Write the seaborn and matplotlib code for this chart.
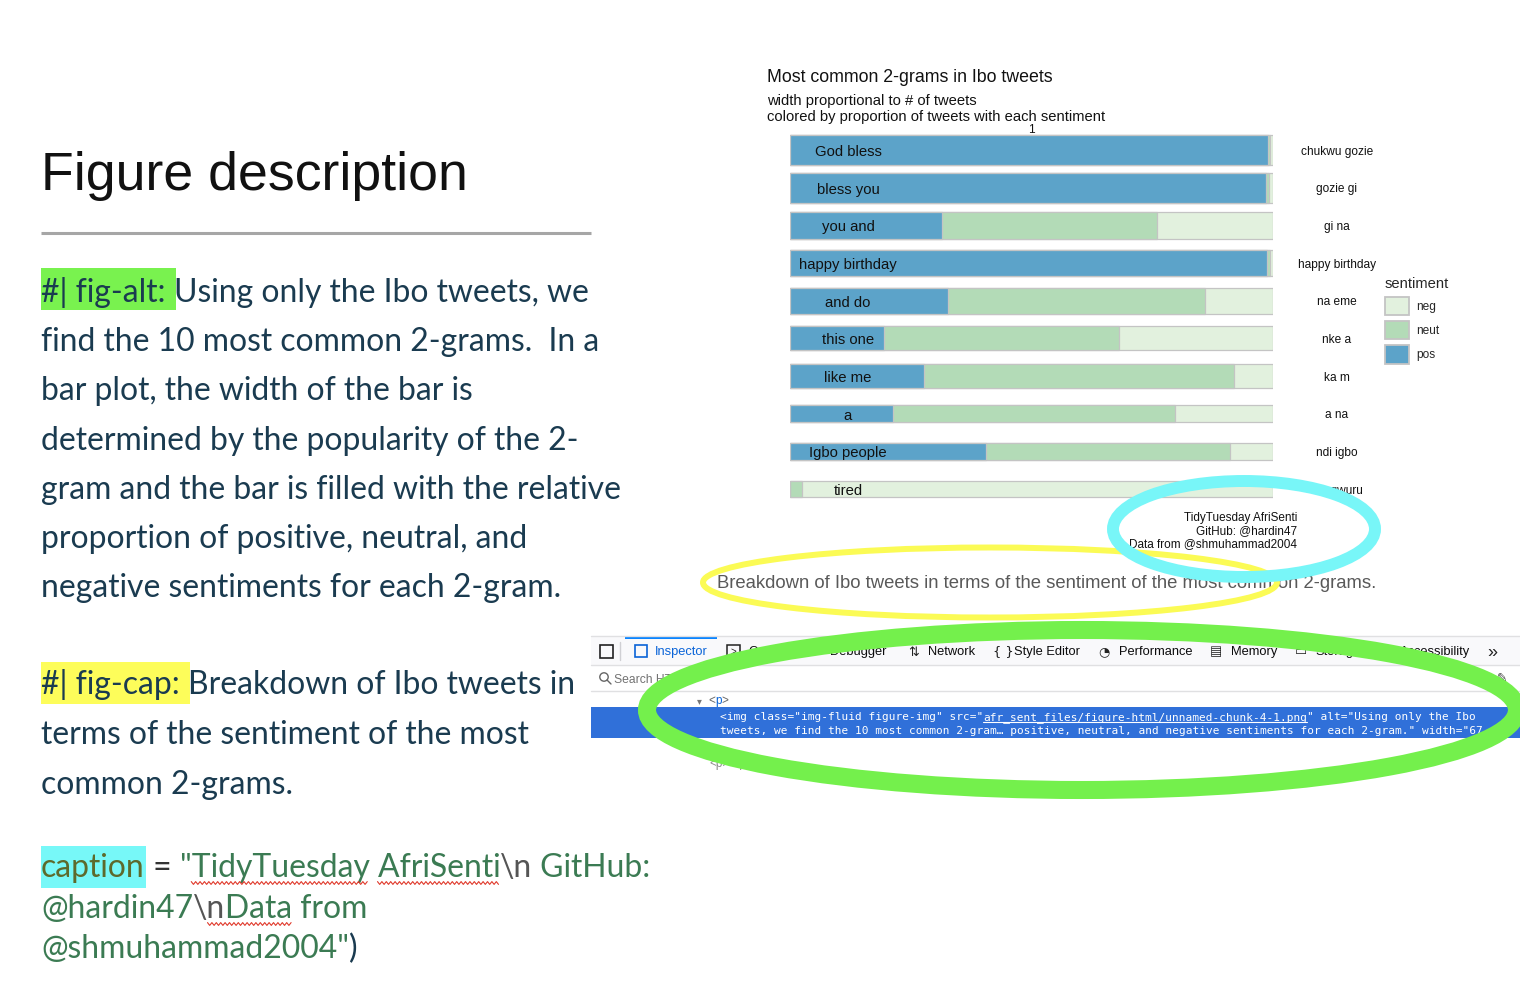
import numpy as np
import pandas as pd
import matplotlib
matplotlib.use("Agg")
import matplotlib.pyplot as plt
from matplotlib.patches import Ellipse, Rectangle, Patch
import seaborn as sns

W, H = 1520, 1000

# ---- chart data ----
igbo = ["chukwu gozie", "gozie gi", "gi na", "happy birthday", "na eme",
        "nke a", "ka m", "a na", "ndi igbo", "ike gwuru"]
english = ["God bless", "bless you", "you and", "happy birthday", "and do",
           "this one", "like me", "a", "Igbo people", "tired"]
n_tweets = [300, 299, 270, 267, 257, 240, 230, 170, 170, 150]
pos = [0.990, 0.986, 0.315, 0.988, 0.327, 0.195, 0.277, 0.214, 0.406, 0.000]
neut = [0.004, 0.006, 0.445, 0.005, 0.532, 0.487, 0.643, 0.584, 0.504, 0.024]
neg = [0.006, 0.008, 0.240, 0.007, 0.141, 0.318, 0.080, 0.202, 0.090, 0.976]

sent_levels = ["neg", "neut", "pos"]
sent_colors = ["#e2f1de", "#b3dbb7", "#5ca3c9"]

# ---- slide text ----
alt_first = "Using only the Ibo tweets, we"
alt_rest = ["find the 10 most common 2-grams.  In a",
            "bar plot, the width of the bar is",
            "determined by the popularity of the 2-",
            "gram and the bar is filled with the relative",
            "proportion of positive, neutral, and",
            "negative sentiments for each 2-gram."]
cap_first = "Breakdown of Ibo tweets in"
cap_rest = ["terms of the sentiment of the most", "common 2-grams."]
chart_caption = "TidyTuesday AfriSenti\nGitHub: @hardin47\nData from @shmuhammad2004"
fig_caption = "Breakdown of Ibo tweets in terms of the sentiment of the most common 2-grams."

df = pd.DataFrame({"igbo": igbo, "english": english, "n": n_tweets,
                   "pos": pos, "neut": neut, "neg": neg})
df["pos_neut"] = df["pos"] + df["neut"]
df["total"] = df["pos_neut"] + df["neg"]

sns.set_style("white")
plt.rcParams["font.family"] = ["Liberation Sans", "DejaVu Sans"]
BODY = ["Lato", "DejaVu Sans"]
MONO = ["DejaVu Sans Mono"]
SANS = ["Liberation Sans", "DejaVu Sans"]

DARK = "#1a3b50"
GREEN_TXT = "#3b7b53"
OLIVE = "#5d6a2c"
GREY = "#555555"

fig = plt.figure(figsize=(15.2, 10), dpi=100)
bg = fig.add_axes([0, 0, 1, 1])
bg.set_xlim(0, W)
bg.set_ylim(H, 0)
bg.axis("off")
R = fig.canvas.get_renderer()


def width_of(s, **kw):
    t = bg.text(0, 0, s + "|", **kw)
    w = t.get_window_extent(R).width
    t.set_text("|")
    w -= t.get_window_extent(R).width
    t.remove()
    return w


def fit(s, family, px):
    return 10 * px / width_of(s, family=family, fontsize=10)


def run(x, y, parts, size, family):
    spans = []
    for s, col in parts:
        bg.text(x, y, s, color=col, fontsize=size, family=family, va="baseline", zorder=3)
        w = width_of(s, fontsize=size, family=family)
        spans.append((x, x + w))
        x += w
    return spans


def squiggle(x0, full, sub, base, size, family):
    i = full.index(sub)
    a = x0 + width_of(full[:i], fontsize=size, family=family)
    b = a + width_of(sub, fontsize=size, family=family)
    xs = np.arange(a, b, 2.2)
    ys = base + 6 + np.where(np.arange(len(xs)) % 2, 1.4, -1.4)
    bg.plot(xs, ys, color="#e0392b", lw=0.8, zorder=3)


# ---- left column ----
bg.text(41, 190, "Figure description", fontsize=fit("Figure description", SANS, 428),
        family=SANS, color="#111111", va="baseline")
bg.plot([41, 591], [233, 233], color="#a6a6a6", lw=2.2, solid_capstyle="butt")

bs = fit(alt_rest[0], BODY, 557)
sp = run(41, 302, [("#| fig-alt: ", DARK), (alt_first, DARK)], bs, BODY)
bg.add_patch(Rectangle((41, 268), sp[0][1] - 39, 42, fc="#79f24f", ec="none", zorder=1))
for i, line in enumerate(alt_rest):
    bg.text(41, 302 + 49.2 * (i + 1), line, fontsize=bs, family=BODY, color=DARK, va="baseline")

sp = run(41, 694, [("#| fig-cap: ", DARK), (cap_first, DARK)], bs, BODY)
bg.add_patch(Rectangle((41, 662), sp[0][1] - 39, 42, fc="#fdfd5a", ec="none", zorder=1))
for i, line in enumerate(cap_rest):
    bg.text(41, 694 + 50 * (i + 1), line, fontsize=bs, family=BODY, color=DARK, va="baseline")

l1 = [("caption", OLIVE), (" = ", "#333333"), ('"TidyTuesday AfriSenti', GREEN_TXT),
      ("\\n", GREY), (" GitHub:", GREEN_TXT)]
l2 = [("@hardin47", GREEN_TXT), ("\\n", GREY), ("Data from", GREEN_TXT)]
l3 = [('@shmuhammad2004"', GREEN_TXT), (")", DARK)]
sp = run(41, 877, l1, bs, BODY)
bg.add_patch(Rectangle((41, 846), sp[0][1] - 40, 42, fc="#77f8f8", ec="none", zorder=1))
run(41, 918, l2, bs, BODY)
run(41, 958, l3, bs, BODY)
full1 = "".join(s for s, _ in l1)
full2 = "".join(s for s, _ in l2)
squiggle(41, full1, "TidyTuesday", 877, bs, BODY)
squiggle(41, full1, "AfriSenti", 877, bs, BODY)
squiggle(41, full2, "nData", 918, bs, BODY)

# ---- chart titles ----
bg.text(767, 77.5, "Most common 2-grams in Ibo tweets", va="center", color="#111111",
        fontsize=fit("Most common 2-grams in Ibo tweets", SANS, 286))
sub_size = fit("colored by proportion of tweets with each sentiment", SANS, 338)
bg.text(767, 101, "width proportional to # of tweets", va="center", fontsize=sub_size, color="#111111")
bg.text(767, 117, "colored by proportion of tweets with each sentiment", va="center",
        fontsize=sub_size, color="#111111")

# ---- stacked bars ----
row_px = 37.67
top_px = 150 - row_px / 2
ax = fig.add_axes([790 / W, 1 - (top_px + 10 * row_px) / H, 483 / W, 10 * row_px / H])
for col, c in [("total", sent_colors[0]), ("pos_neut", sent_colors[1]), ("pos", sent_colors[2])]:
    sns.barplot(data=df, x=col, y="igbo", orient="h", color=c, saturation=1,
                edgecolor="#c4c4c4", linewidth=0.9, errorbar=None, width=0.8, ax=ax)
nmax = max(n_tweets)
for p in ax.patches:
    k = int(round(p.get_y() + p.get_height() / 2))
    h = 0.8 * n_tweets[k] / nmax
    p.set_y(k - h / 2)
    p.set_height(h)
ax.set_xlim(0, 1)
ax.set_ylim(9.5, -0.5)
ax.axis("off")
lab_size = fit("happy birthday", SANS, 98)
ig_size = fit("happy birthday", SANS, 78)
for k in range(len(english)):
    ax.text(0.12, k + 0.05, english[k], ha="center", va="center", fontsize=lab_size, color="#111111")
    ax.text(1.1325, k + 0.04, igbo[k], ha="center", va="center", fontsize=ig_size, color="#111111")
ax.text(0.5, -0.53, "1", ha="center", va="center", fontsize=ig_size, color="#111111")

handles = [Patch(facecolor=c, edgecolor="#c4c4c4", linewidth=1.3) for c in sent_colors]
fig.legend(handles, sent_levels, loc="upper left", bbox_to_anchor=(1379 / W, 1 - 271 / H),
           frameon=False, borderpad=0, title="sentiment", title_fontsize=fit("sentiment", SANS, 64),
           fontsize=ig_size, handlelength=2.0, handleheight=2.0, labelspacing=0.5,
           handletextpad=0.6, alignment="left")

bg.text(1297, 531, chart_caption, ha="right", va="center", multialignment="right",
        fontsize=fit("Data from @shmuhammad2004", SANS, 169), linespacing=1.1, color="#111111")
bg.text(717, 583, fig_caption, va="center", color="#595959",
        fontsize=fit(fig_caption, SANS, 666))

# ---- dev tools panel ----
bg.add_patch(Rectangle((591, 636), W - 591, 29, fc="#f9f9fb", ec="none"))
bg.plot([591, W], [636, 636], color="#e0e0e2", lw=1)
bg.plot([591, W], [665, 665], color="#e0e0e2", lw=1)
bg.plot([591, W], [691, 691], color="#e0e0e2", lw=1)
bg.add_patch(Rectangle((625, 636), 92, 2.5, fc="#0a84ff", ec="none"))
bg.add_patch(Rectangle((600, 645), 13, 13, fc="none", ec="#222222", lw=1.2))
bg.plot([620, 620], [642, 660], color="#d0d0d4", lw=1)
bg.add_patch(Rectangle((635, 645), 12, 12, fc="none", ec="#0a64d8", lw=1.2))
bg.add_patch(Rectangle((727, 645), 13, 13, fc="none", ec="#222222", lw=1.1))
bg.text(733.5, 651.5, ">", ha="center", va="center", fontsize=7, color="#222222")
tab_size = fit("Performance", SANS, 74)
tabs = [("Inspector", 655, "#0a64d8"), ("Console", 748, "#0c0c0d"), ("Debugger", 830, "#0c0c0d"),
        ("Network", 928, "#0c0c0d"), ("Style Editor", 1014, "#0c0c0d"),
        ("Performance", 1119, "#0c0c0d"), ("Memory", 1231, "#0c0c0d"),
        ("Storage", 1315, "#0c0c0d"), ("Accessibility", 1400, "#0c0c0d")]
for name, x, c in tabs:
    bg.text(x, 652, name, va="center", fontsize=tab_size, color=c)
for ch, x in [("⇅", 908), ("{ }", 993), ("◔", 1098), ("▤", 1210), ("▭", 1295)]:
    bg.text(x, 652, ch, va="center", fontsize=tab_size, family=["DejaVu Sans"], color="#222222")
bg.text(1487, 652, "»", va="center", fontsize=13, color="#222222")

bg.add_patch(plt.Circle((604, 677), 4.2, fc="none", ec="#666666", lw=1))
bg.plot([607, 611], [680, 684], color="#666666", lw=1)
bg.text(614, 680, "Search HTML", va="center", fontsize=tab_size * 0.95, color="#737373")
bg.text(1502, 678, "✎", va="center", ha="center", fontsize=9, family=["DejaVu Sans"], color="#444444")

bg.text(697, 701, "▾", va="center", fontsize=7, family=["DejaVu Sans"], color="#777777")
run(708, 704, [("<", "#666666"), ("p", "#0a64d8"), (">", "#666666")], 8.5, SANS)
bg.add_patch(Rectangle((591, 707), W - 591, 31, fc="#3070d9", ec="none", zorder=1))
code1 = [('<img class="img-fluid figure-img" src="', "white"),
         ("afr_sent_files/figure-html/unnamed-chunk-4-1.png", "white"),
         ('" alt="Using only the Ibo', "white")]
code2 = 'tweets, we find the 10 most common 2-gram… positive, neutral, and negative sentiments for each 2-gram." width="67'
msize = fit("".join(s for s, _ in code1), MONO, 752)
sp = run(720, 720, code1, msize, MONO)
bg.plot([sp[1][0], sp[1][1]], [722, 722], color="white", lw=0.8, zorder=3)
bg.text(720, 734, code2, va="baseline", fontsize=msize, family=MONO, color="white", zorder=3)
run(709, 767, [("<p></p>", "#8a8a8a")], 8.5, SANS)

# ---- hand-drawn highlight ellipses ----
fg = fig.add_axes([0, 0, 1, 1], zorder=10)
fg.set_xlim(0, W)
fg.set_ylim(H, 0)
fg.patch.set_alpha(0)
fg.axis("off")
fg.add_patch(Ellipse((990, 582.5), 574, 70, fill=False, ec="#fbfb55", lw=4.3))
fg.add_patch(Ellipse((1244, 529), 262, 96, fill=False, ec="#78f6f8", lw=8.6))
fg.add_patch(Ellipse((1082, 710), 870, 160, fill=False, ec="#74f04c", lw=13))

fig.savefig("out.png", dpi=100)
